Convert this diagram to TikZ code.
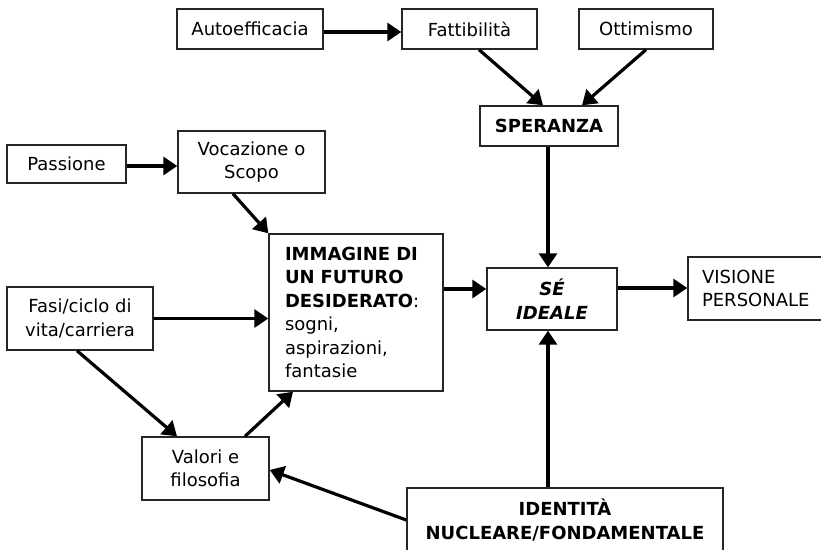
\documentclass[tikz,border=0pt]{standalone}
\usepackage{fontspec}
\setmainfont{DejaVu Sans}
\usetikzlibrary{arrows.meta,calc}
\begin{document}
\begin{tikzpicture}[x=1pt,y=-1pt,
  box/.style={draw=black!85, line width=1.4pt, inner sep=0pt, align=center,
    font=\fontsize{18}{23.5}\selectfont},
  arr/.style={line width=3.2pt, -{Triangle[length=14pt,width=18pt]}}]
\useasboundingbox (0,0) rectangle (821,549);

\node[box, minimum width=146pt, minimum height=40pt] (auto) at (250,29) {Autoefficacia};
\node[box, minimum width=135pt, minimum height=40pt] (fatt) at (469.5,29) {Fattibilità};
\node[box, minimum width=134pt, minimum height=40pt] (ottim) at (646,29) {Ottimismo};
\node[box, minimum width=138pt, minimum height=40pt, font=\fontsize{18}{23.5}\selectfont\bfseries] (sper) at (549,126) {SPERANZA};
\node[box, minimum width=119pt, minimum height=38pt] (pass) at (66.5,164) {Passione};
\node[box, minimum width=147pt, minimum height=62pt] (voc) at (251.5,162) {Vocazione o\\Scopo};
\node[box, align=left, text width=142pt, inner xsep=16pt, minimum height=157pt] (imm) at (356,312.5)
  {\textbf{IMMAGINE DI}\\\textbf{UN FUTURO}\\\textbf{DESIDERATO}:\\sogni,\\aspirazioni,\\fantasie};
\node[box, minimum width=146pt, minimum height=63pt] (fasi) at (80,318.5) {Fasi/ciclo di\\vita/carriera};
\node[box, minimum width=127pt, minimum height=63pt] (val) at (205.5,468.5) {Valori e\\filosofia};
\node[box, minimum width=130pt, minimum height=62pt, font=\fontsize{18}{23.5}\selectfont\bfseries\itshape] (se) at (552,299) {SÉ\\IDEALE};
\node[box, align=left, text width=106pt, inner xsep=14pt, minimum height=63pt] (vis) at (755,288.5) {VISIONE\\PERSONALE};
\node[box, minimum width=316pt, minimum height=64pt, font=\fontsize{18}{23.5}\selectfont\bfseries] (ident) at (565,520) {IDENTITÀ\\NUCLEARE/FONDAMENTALE};

\draw[arr] ([yshift=-3pt]auto.east) -- ([yshift=-3pt]fatt.west);
\draw[arr] ([xshift=9.5pt]fatt.south) -- ([xshift=-6pt]sper.north);
\draw[arr] (ottim.south) -- ([xshift=33pt]sper.north);
\draw[arr] ([xshift=-1pt]sper.south) -- ([xshift=-4pt]se.north);
\draw[arr] ([yshift=-2pt]pass.east) -- ([yshift=-2pt]pass.east -| voc.west);
\draw[arr] ([xshift=-18.5pt]voc.south) -- (imm.north west);
\draw[arr] (fasi.east) -- (fasi.east -| imm.west);
\draw[arr] ([xshift=-3pt]fasi.south) -- ([xshift=-28.5pt]val.north);
\draw[arr] ([xshift=39.5pt]val.north) -- ([xshift=-63pt]imm.south);
\draw[arr] ([yshift=10pt]se.west -| imm.east) -- ([yshift=10pt]se.west);
\draw[arr] ([yshift=11pt]se.east) -- ([yshift=11pt]se.east -| vis.west);
\draw[arr] ([xshift=-17pt]ident.north) -- ([xshift=-4pt]se.south);
\draw[arr] (ident.west) -- ([yshift=-1.5pt]val.east);
\end{tikzpicture}
\end{document}
